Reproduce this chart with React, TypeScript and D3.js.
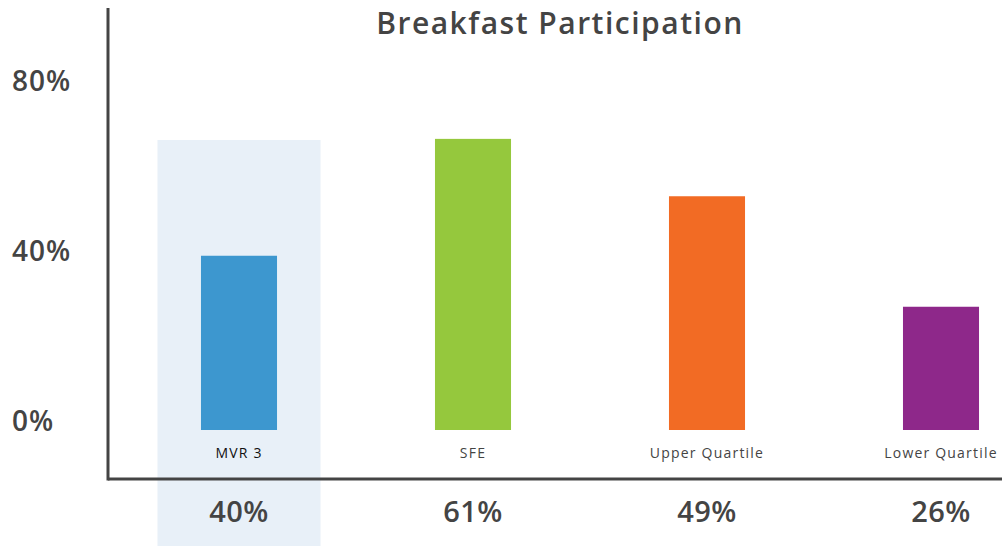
import * as d3 from "d3";

const categories = ["MVR 3", "SFE", "Upper Quartile", "Lower Quartile"];
// bar heights as drawn (the picture's bars do not sit exactly on the printed values)
const barValues = [41, 68.5, 55, 29];
const valueLabels = ["40%", "61%", "49%", "26%"];
const colors = ["#3d97cf", "#95c83d", "#f26b24", "#8e288a"];
const yTicks = [0, 40, 80];
const highlighted = "MVR 3";

export default function App() {
  const width = 1002;
  const height = 546;
  const axisX = 108;
  const axisY = 479;
  const baseline = 430;
  const font = "'Open Sans', 'DejaVu Sans', sans-serif";
  const ink = "#444";

  const x = d3
    .scaleBand()
    .domain(categories)
    .range([122, 1058])
    .paddingInner(0.675)
    .paddingOuter(0.3375);

  const y = d3.scaleLinear().domain([0, 80]).range([baseline, 90]);

  const hx = (x(highlighted) ?? 0) + x.bandwidth() / 2;

  return (
    <svg
      width={width}
      height={height}
      style={{ position: "absolute", left: 0, top: 0, display: "block" }}
      fontFamily={font}
    >
      {/* highlight band */}
      <rect x={hx - 81.5} y={140} width={163} height={height - 140} fill="#e8f0f8" />

      {/* title */}
      <text x={560} y={34} textAnchor="middle" fontSize={30} fontWeight={600} letterSpacing={1.5} fill={ink}>
        Breakfast Participation
      </text>

      {/* y ticks */}
      {yTicks.map((t) => (
        <text key={t} x={12} y={y(t) + 1} fontSize={28} fontWeight={600} letterSpacing={1} fill={ink}>
          {t}%
        </text>
      ))}

      {/* bars */}
      {categories.map((c, i) => (
        <rect
          key={c}
          x={x(c)}
          y={y(barValues[i])}
          width={x.bandwidth()}
          height={baseline - y(barValues[i])}
          fill={colors[i]}
        />
      ))}

      {/* category labels */}
      {categories.map((c) => (
        <text
          key={c}
          x={(x(c) ?? 0) + x.bandwidth() / 2}
          y={458}
          textAnchor="middle"
          fontSize={14}
          letterSpacing={1.2}
          fill={c === highlighted ? "#111" : ink}
        >
          {c}
        </text>
      ))}

      {/* value labels */}
      {categories.map((c, i) => (
        <text
          key={c}
          x={(x(c) ?? 0) + x.bandwidth() / 2}
          y={522}
          textAnchor="middle"
          fontSize={29}
          fontWeight={600}
          letterSpacing={0.5}
          fill={ink}
        >
          {valueLabels[i]}
        </text>
      ))}

      {/* axes */}
      <line x1={axisX} x2={axisX} y1={8} y2={axisY + 1.5} stroke={ink} strokeWidth={3} />
      <line x1={axisX} x2={width} y1={axisY} y2={axisY} stroke={ink} strokeWidth={3} />
    </svg>
  );
}
